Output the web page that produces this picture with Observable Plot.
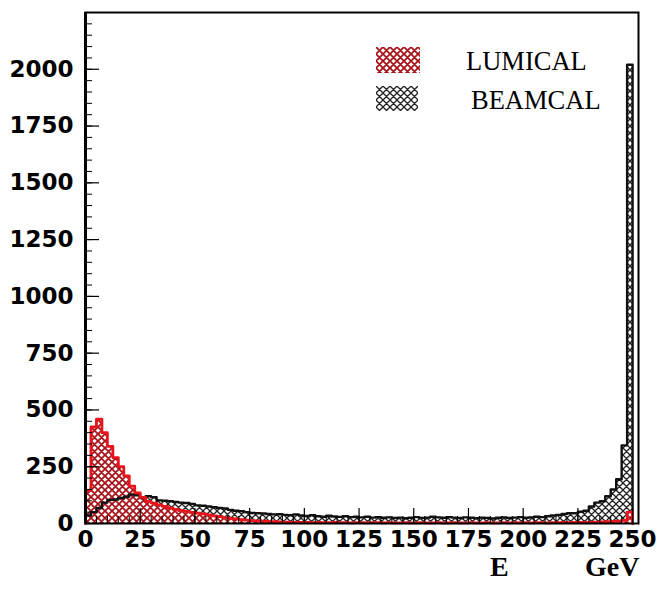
<!DOCTYPE html>
<html>
<head>
<meta charset="utf-8">
<script src="https://cdn.jsdelivr.net/npm/d3@7"></script>
<script src="https://cdn.jsdelivr.net/npm/@observablehq/plot@0.6"></script>
<style>
  html, body { margin: 0; padding: 0; background: #fff; }
  #wrap { position: relative; width: 660px; height: 589px; }
  .leg { position: absolute; font-family: "Liberation Serif", "Times New Roman", serif; font-size: 26.5px; color: #000; line-height: 1; }
  .sw { position: absolute; }
  .ax { position: absolute; font-family: "Liberation Serif", "Times New Roman", serif; font-weight: bold; font-size: 28px; color: #000; line-height: 1; }
</style>
</head>
<body>
<svg width="0" height="0" style="position:absolute">
  <defs>
    <pattern id="hatchRed" patternUnits="userSpaceOnUse" width="7" height="7">
      <rect width="7" height="7" fill="#fff"></rect>
      <path d="M-1,-1 L8,8 M-1,8 L8,-1 M-4.5,3.5 L3.5,-4.5 M3.5,10.5 L10.5,3.5 M-4.5,3.5 L3.5,10.5 M3.5,-4.5 L10.5,3.5" stroke="#a8141a" stroke-width="1.8" fill="none"></path>
    </pattern>
    <pattern id="hatchBlack" patternUnits="userSpaceOnUse" width="7" height="7">
      <rect width="7" height="7" fill="#fff"></rect>
      <path d="M-1,-1 L8,8 M-1,8 L8,-1 M-4.5,3.5 L3.5,-4.5 M3.5,10.5 L10.5,3.5 M-4.5,3.5 L3.5,10.5 M3.5,-4.5 L10.5,3.5" stroke="#222" stroke-width="1.3" fill="none"></path>
    </pattern>
  </defs>
</svg>
<div id="wrap"></div>
<script>
// Energy bins: 100 bins of 2.5 GeV from 0 to 250
const binWidth = 2.5;
const nBins = 100;

const lumical = [
  145, 425, 460, 400, 340, 290, 250, 210, 165, 135,
  115, 97, 90, 82, 75, 68, 62, 57, 53, 49,
  46, 42, 38, 34, 30, 26, 23, 20, 17, 15,
  13, 11, 10, 9, 8, 7, 6, 6, 5, 5,
  5, 4, 5, 4, 4, 5, 4, 4, 3, 4,
  4, 3, 4, 4, 3, 4, 3, 3, 4, 3,
  3, 4, 3, 3, 4, 3, 3, 4, 3, 3,
  4, 3, 3, 4, 3, 3, 4, 3, 4, 3,
  4, 3, 4, 4, 3, 4, 4, 5, 4, 5,
  5, 5, 6, 6, 7, 8, 9, 10, 14, 50
];

const beamcal = [
  35, 50, 68, 92, 104, 106, 112, 118, 128, 124,
  112, 120, 116, 102, 100, 98, 95, 92, 90, 86,
  80, 78, 75, 72, 68, 66, 60, 56, 54, 50,
  46, 45, 44, 42, 40, 41, 38, 36, 40, 35,
  33, 36, 32, 30, 34, 31, 29, 32, 28, 30,
  27, 30, 26, 28, 25, 27, 24, 26, 23, 25,
  28, 24, 26, 30, 27, 25, 28, 26, 24, 27,
  25, 23, 26, 24, 22, 25, 27, 24, 26, 28,
  25, 27, 30, 28, 32, 35, 38, 42, 45, 45,
  52, 56, 75, 92, 98, 120, 150, 195, 344, 2020
];

const xTicks = [0, 25, 50, 75, 100, 125, 150, 175, 200, 225, 250];
const yTicks = [0, 250, 500, 750, 1000, 1250, 1500, 1750, 2000];
const xMinor = d3.range(0, 251, 5);
const yMinor = d3.range(0, 2250, 50);

function stepPoints(values) {
  const pts = values.map((v, i) => ({x: i * binWidth, y: v}));
  pts.push({x: nBins * binWidth, y: values[values.length - 1]});
  return pts;
}
function outlinePoints(values) {
  return [{x: 0, y: 0}, ...stepPoints(values), {x: nBins * binWidth, y: 0}];
}

const W = 660, H = 589;
const mL = 85, mR = 22, mT = 12, mB = 66;
const fw = W - mL - mR, fh = H - mT - mB;
const fmt = d => String(d);

const chart = Plot.plot({
  width: W,
  height: H,
  marginLeft: mL,
  marginRight: mR,
  marginTop: mT,
  marginBottom: mB,
  style: {background: "#fff", fontFamily: "DejaVu Sans", fontWeight: "bold", fontSize: "23px", color: "#000"},
  x: {domain: [0, 252.7], label: null},
  y: {domain: [0, 2250], label: null},
  marks: [
    Plot.areaY(stepPoints(beamcal), {x: "x", y: "y", curve: "step-after", fill: "url(#hatchBlack)"}),
    Plot.areaY(stepPoints(lumical), {x: "x", y: "y", curve: "step-after", fill: "url(#hatchRed)"}),
    Plot.line(outlinePoints(beamcal), {x: "x", y: "y", curve: "step-after", stroke: "#111", strokeWidth: 2.4}),
    Plot.line(outlinePoints(lumical), {x: "x", y: "y", curve: "step-after", stroke: "#e8141c", strokeWidth: 2.8}),
    // inward ticks
    Plot.ruleY(yTicks, {y: d => d, insetRight: fw - 14, stroke: "#000", strokeWidth: 1.2}),
    Plot.ruleY(yMinor, {y: d => d, insetRight: fw - 7, stroke: "#000", strokeWidth: 1}),
    Plot.ruleX(xTicks, {x: d => d, insetTop: fh - 15, stroke: "#000", strokeWidth: 1.2}),
    Plot.ruleX(xMinor, {x: d => d, insetTop: fh - 7, stroke: "#000", strokeWidth: 1}),
    Plot.frame({stroke: "#000", strokeWidth: 2}),
    Plot.ruleX([0], {stroke: "#000", strokeWidth: 3}),
    Plot.axisY(yTicks, {tickSize: 0, tickPadding: 12, tickFormat: fmt, label: null, fontSize: 23, fontWeight: "bold", fontFamily: "DejaVu Sans"}),
    Plot.axisX(xTicks, {tickSize: 0, tickPadding: 7, tickFormat: fmt, label: null, fontSize: 23, fontWeight: "bold", fontFamily: "DejaVu Sans"})
  ]
});

const wrap = document.getElementById("wrap");
wrap.appendChild(chart);

function swatch(id, left, top, w, h) {
  const s = document.createElementNS("http://www.w3.org/2000/svg", "svg");
  s.setAttribute("width", w); s.setAttribute("height", h);
  s.setAttribute("class", "sw");
  s.style.left = left + "px"; s.style.top = top + "px";
  const r = document.createElementNS("http://www.w3.org/2000/svg", "rect");
  r.setAttribute("width", w); r.setAttribute("height", h);
  r.setAttribute("fill", `url(#${id})`);
  s.appendChild(r);
  wrap.appendChild(s);
}
function label(text, cls, left, top) {
  const d = document.createElement("div");
  d.className = cls; d.textContent = text;
  d.style.left = left + "px"; d.style.top = top + "px";
  wrap.appendChild(d);
}
swatch("hatchRed", 376, 47, 44, 26);
swatch("hatchBlack", 376, 86, 42, 25);
label("LUMICAL", "leg", 466, 48);
label("BEAMCAL", "leg", 471, 87);
label("E", "ax", 490, 553);
label("GeV", "ax", 585, 553);
</script>
</body>
</html>
